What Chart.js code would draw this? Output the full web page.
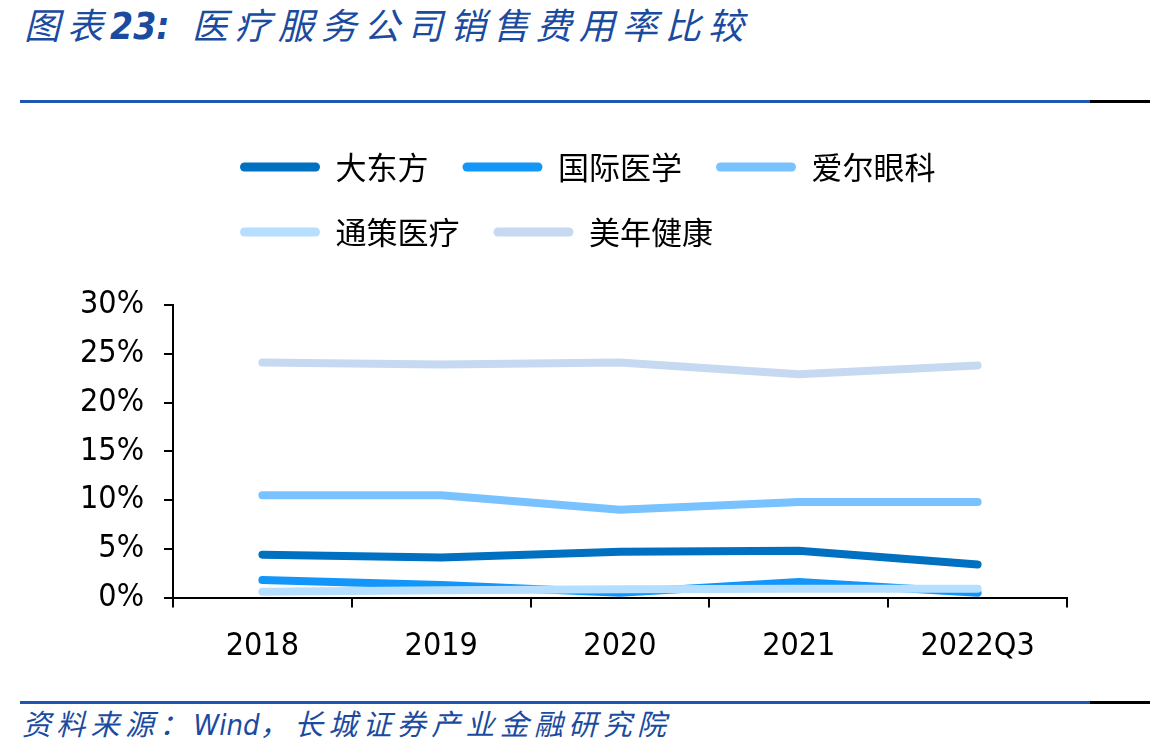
<!DOCTYPE html>
<html>
<head>
<meta charset="utf-8">
<script src="https://cdn.jsdelivr.net/npm/chart.js@4.4.1/dist/chart.umd.min.js"></script>
<style>
  html, body { margin: 0; padding: 0; background: #fff; }
  body { width: 1150px; height: 755px; position: relative; overflow: hidden; font-family: "Noto Sans CJK SC", sans-serif; }
  #title { position: absolute; left: 24px; top: -3px; font-size: 36px; font-style: italic; color: #1B4B9F; letter-spacing: 7px; white-space: nowrap; line-height: 52px; }
  #title b { font-family: "DejaVu Sans Condensed", sans-serif; font-weight: bold; letter-spacing: 0; font-size: 37px; margin-right: 22px; }
  .rule { position: absolute; height: 3px; }
  #footer { position: absolute; left: 22px; top: 700px; font-size: 29px; font-style: italic; color: #1B4B9F; letter-spacing: 5.3px; white-space: nowrap; line-height: 44px; }
  #footer span.en { font-family: "DejaVu Sans Condensed", sans-serif; letter-spacing: 0; }
  #wrap { position: absolute; left: 0; top: 110px; width: 1150px; height: 590px; }
</style>
</head>
<body>
<div id="title">图表<b>23:</b>医疗服务公司销售费用率比较</div>
<div class="rule" style="left:20px; top:100px; width:1070px; background:#1F55B3;"></div>
<div class="rule" style="left:1090px; top:100px; width:60px; background:#000;"></div>
<div id="wrap"><canvas id="c" width="1150" height="590"></canvas></div>
<div class="rule" style="left:20px; top:701px; width:1070px; background:#1F55B3;"></div>
<div class="rule" style="left:1090px; top:701px; width:60px; background:#000;"></div>
<div id="footer">资料来源：<span class="en">Wind</span>，长城证券产业金融研究院</div>
<script>
// ---- data ----
const categories = ['2018', '2019', '2020', '2021', '2022Q3'];
const seriesNames = ['大东方', '国际医学', '爱尔眼科', '通策医疗', '美年健康'];
const daDongFang = [4.4, 4.1, 4.7, 4.8, 3.4];
const guoJiYiXue = [1.8, 1.3, 0.5, 1.6, 0.5];
const aiErYanKe = [10.5, 10.5, 9.0, 9.8, 9.8];
const tongCeYiLiao = [0.6, 0.75, 0.85, 0.9, 0.9];
const meiNianJianKang = [24.1, 23.9, 24.1, 22.9, 23.8];
const yTicks = [0, 5, 10, 15, 20, 25, 30];

const colors = ['#0070C0', '#1296FA', '#78C2FF', '#B5DEFF', '#C6D9F1'];
const values = [daDongFang, guoJiYiXue, aiErYanKe, tongCeYiLiao, meiNianJianKang];
const drawOrder = [1, 1, 1, 0, 1];

const numFont = { family: 'DejaVu Sans Condensed', size: 32 };

const legendPlace = {
  id: 'legendPlace',
  afterLayout(chart) {
    const lg = chart.legend;
    const pad = lg.options.labels.padding;
    lg.left = 240 - pad;
    const h = lg.bottom - lg.top;
    lg.top = 7.5;
    lg.bottom = lg.top + h;
  }
};

new Chart(document.getElementById('c'), {
  type: 'line',
  data: {
    labels: categories,
    datasets: seriesNames.map((name, i) => ({
      label: name,
      data: values[i],
      borderColor: colors[i],
      backgroundColor: colors[i],
      borderWidth: 8,
      borderCapStyle: 'round',
      borderJoinStyle: 'round',
      pointRadius: 0,
      tension: 0,
      fill: false,
      order: drawOrder[i]
    }))
  },
  options: {
    responsive: false,
    animation: false,
    layout: { padding: { left: 60, right: 83, top: 55, bottom: 14 } },
    plugins: {
      tooltip: { enabled: false },
      legend: {
        position: 'top',
        align: 'start',
        fullSize: false,
        labels: {
          font: { family: 'Noto Sans CJK SC', size: 31 },
          color: '#000',
          boxWidth: 80,
          boxHeight: 9,
          padding: 34,
          useBorderRadius: true,
          borderRadius: 4.5,
          sort: (a, b) => a.datasetIndex - b.datasetIndex,
          generateLabels: (chart) => Chart.defaults.plugins.legend.labels.generateLabels(chart)
            .map(l => Object.assign(l, { lineWidth: 0, strokeStyle: l.fillStyle }))
        }
      }
    },
    scales: {
      x: {
        offset: true,
        grid: { display: true, drawOnChartArea: false, drawTicks: true, tickLength: 10, color: '#000', lineWidth: 2, offset: true },
        border: { display: true, color: '#000', width: 2 },
        ticks: { font: numFont, color: '#000', padding: 20, maxRotation: 0 }
      },
      y: {
        min: 0,
        max: 30,
        afterBuildTicks: (axis) => { axis.ticks = yTicks.map(v => ({ value: v })); },
        grid: { display: true, drawOnChartArea: false, drawTicks: true, tickLength: 9, color: '#000', lineWidth: 2 },
        border: { display: true, color: '#000', width: 2 },
        ticks: { font: numFont, color: '#000', padding: 20, callback: (v) => v + '%' }
      }
    }
  },
  plugins: [legendPlace]
});
</script>
</body>
</html>
